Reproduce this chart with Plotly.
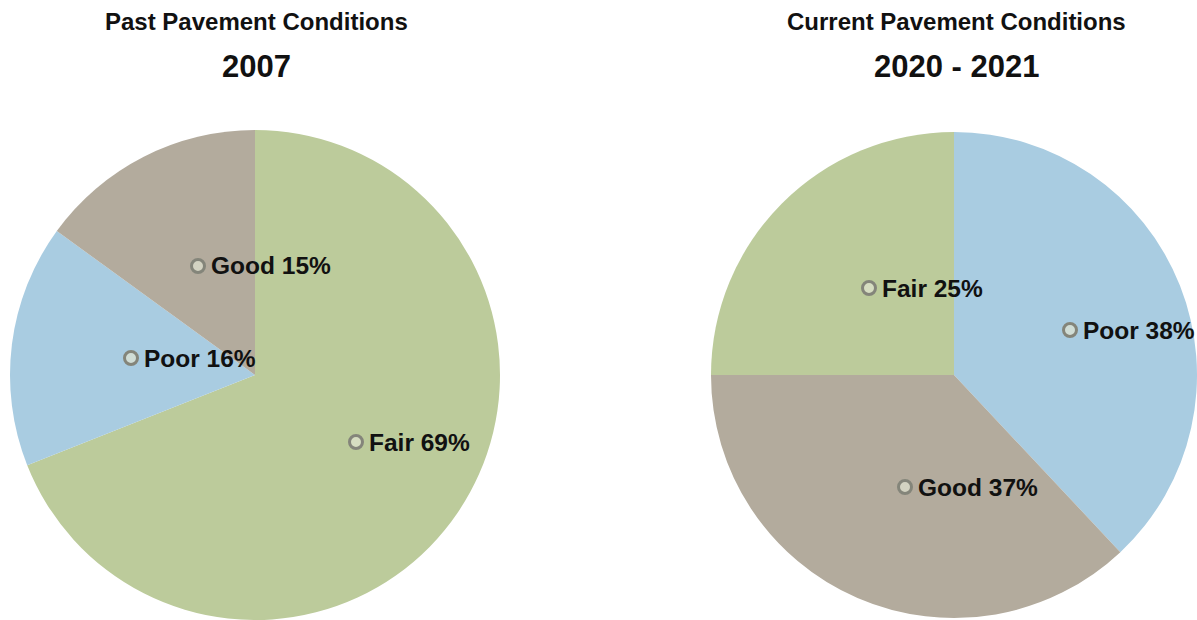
import plotly.graph_objects as go

W, H = 1197, 620
OFF = 0  # page body margin removed via post_script

# Data
past_labels = ["Fair", "Poor", "Good"]
past_values = [69, 16, 15]
curr_labels = ["Poor", "Good", "Fair"]
curr_values = [38, 37, 25]
color_map = {"Fair": "#bccb9b", "Poor": "#a9cce1", "Good": "#b3ab9d"}

past_title = "Past Pavement Conditions"
past_year = "2007"
curr_title = "Current Pavement Conditions"
curr_year = "2020 - 2021"

# label marker pixel positions (screen coords, layout only)
past_label_pos = {"Fair": (356, 442), "Poor": (131, 358), "Good": (198, 266)}
curr_label_pos = {"Poor": (1070, 330), "Good": (905, 487), "Fair": (869, 288)}


def px(x, y):
    return (x - OFF) / W, 1 - (y - OFF) / H


fig = go.Figure()

R = 245
for labels, values, (cx, cy) in [(past_labels, past_values, (255, 375)),
                                 (curr_labels, curr_values, (954, 375))]:
    # shrink radius so the pie's domain stays inside the figure horizontally
    r = min(R, cx - OFF, W + OFF - cx)
    xa, yb = px(cx - r, cy + r)
    xb, ya = px(cx + r, cy - r)
    fig.add_trace(go.Pie(
        labels=labels, values=values, sort=False, direction="clockwise",
        rotation=0, textinfo="none", showlegend=False,
        marker=dict(colors=[color_map[l] for l in labels], line=dict(width=0)),
        domain=dict(x=[max(xa, 0), min(xb, 1)], y=[max(yb, 0), min(ya, 1)]),
    ))

shapes = []
annotations = []
FONT = "Liberation Sans, Arial, sans-serif"

for labels, values, pos in [(past_labels, past_values, past_label_pos),
                            (curr_labels, curr_values, curr_label_pos)]:
    for lab, val in zip(labels, values):
        cx, cy = pos[lab]
        r = 6.5
        x0, y0 = px(cx - r, cy + r)
        x1, y1 = px(cx + r, cy - r)
        shapes.append(dict(type="circle", xref="paper", yref="paper",
                           x0=x0, y0=y0, x1=x1, y1=y1, layer="above",
                           line=dict(color="#84857a", width=3),
                           fillcolor="rgba(225,228,210,0.7)"))
        tx, ty = px(cx + 11, cy)
        annotations.append(dict(x=tx, y=ty, xref="paper", yref="paper",
                                xanchor="left", yanchor="middle", showarrow=False,
                                text=f"<b>{lab} {val}%</b>",
                                font=dict(family=FONT, size=24.5, color="#111111")))

for title, year, cx in [(past_title, past_year, 256), (curr_title, curr_year, 956)]:
    x, y = px(cx, 21)
    annotations.append(dict(x=x, y=y, xref="paper", yref="paper", xanchor="center",
                            yanchor="middle", showarrow=False, text=f"<b>{title}</b>",
                            font=dict(family=FONT, size=24, color="#111111")))
    x, y = px(cx, 66)
    annotations.append(dict(x=x, y=y, xref="paper", yref="paper", xanchor="center",
                            yanchor="middle", showarrow=False, text=f"<b>{year}</b>",
                            font=dict(family=FONT, size=31, color="#111111")))

fig.update_layout(
    width=W, height=H, margin=dict(l=0, r=0, t=0, b=0),
    paper_bgcolor="white", plot_bgcolor="white",
    shapes=shapes, annotations=annotations,
)

fig.write_html(
    "out.html",
    config={"displayModeBar": False},
    post_script="document.body.style.margin='0';document.body.style.overflow='hidden';",
)
